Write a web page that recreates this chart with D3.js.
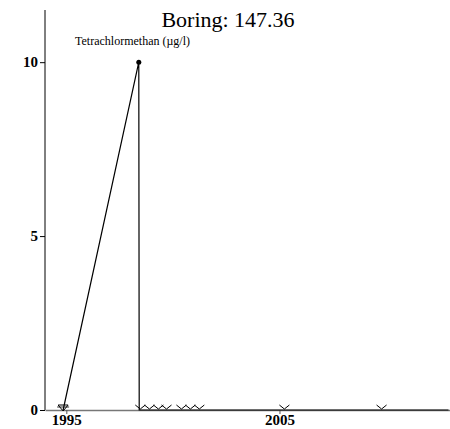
<!DOCTYPE html>
<html><head><meta charset="utf-8">
<script src="https://cdn.jsdelivr.net/npm/d3@7"></script>
<style>body{margin:0;background:#fff;}svg{display:block;}text{font-family:"Liberation Serif","Times New Roman",serif;}</style>
</head><body>
<svg id="c" width="450" height="429"></svg>
<script>
const title = "Boring: 147.36";
const seriesName = "Tetrachlormethan (\u00b5g/l)";
// measured line
const lineDates = [1994.85, 1998.4, 1998.42, 1998.47, 1998.9, 1999.32, 1999.7, 2000.4, 2000.82, 2001.24, 2005.23, 2009.79, 2012.93];
const lineValues = [0, 10, 0, 0, 0, 0, 0, 0, 0, 0, 0, 0, 0];
// below detection-limit markers (drawn at 0)
const bdlDates = [1998.47, 1998.9, 1999.32, 1999.7, 2000.4, 2000.82, 2001.24, 2005.23, 2009.79];
const xTicks = [1995, 2005];
const yTicks = [0, 5, 10];

const svg = d3.select("#c");
const x = d3.scaleLinear().domain([1994, 2013]).range([45, 450]);
const y = d3.scaleLinear().domain([0, 11.5]).range([410, 10]);

svg.append("text").attr("x", 228).attr("y", 27).attr("text-anchor", "middle")
  .attr("font-size", 22).text(title);
svg.append("text").attr("x", 75).attr("y", 45).attr("font-size", 12).text(seriesName);

// y axis
const ya = svg.append("g").attr("transform", "translate(45,0)")
  .call(d3.axisLeft(y).tickValues(yTicks).tickSize(5).tickSizeOuter(0).tickFormat(d3.format("d")));
ya.select(".domain").attr("d", `M0,${y(11.5)}V${y(0)}`).attr("stroke", "#000");
ya.selectAll("text").attr("font-size", 15).attr("font-weight", "bold").attr("font-family", "Liberation Serif, serif").attr("fill", "#000").attr("dx", "1");
ya.selectAll("line").attr("stroke", "#000");

// x axis
const xa = svg.append("g").attr("transform", `translate(0,${y(0)})`)
  .call(d3.axisBottom(x).tickValues(xTicks).tickSize(4).tickSizeOuter(0).tickFormat(d3.format("d")));
xa.select(".domain").attr("stroke", "#777").attr("stroke-width", 1.3);
xa.selectAll("line").attr("stroke", "#555");
xa.selectAll("text").attr("font-size", 15).attr("font-weight", "bold").attr("font-family", "Liberation Serif, serif").attr("fill", "#000").attr("dy", "0.5em");

// line
const pts = lineDates.map((d, i) => [d, lineValues[i]]);
svg.append("path").datum(pts)
  .attr("d", d3.line().x(d => x(d[0])).y(d => y(d[1])))
  .attr("fill", "none").attr("stroke", "#000").attr("stroke-width", 1.2);

// first point: open down triangle
svg.append("path")
  .attr("d", `M${x(lineDates[0]) - 5},${y(0) - 5}h10l-5,6z`)
  .attr("fill", "none").attr("stroke", "#000").attr("stroke-width", 1);
svg.append("line").attr("x1", x(lineDates[0]) - 6).attr("x2", x(lineDates[0]) + 6)
  .attr("y1", y(0) - 3).attr("y2", y(0) - 3).attr("stroke", "#000").attr("stroke-width", 0.8);

// max point
svg.append("circle").attr("cx", x(lineDates[1])).attr("cy", y(lineValues[1])).attr("r", 2.5).attr("fill", "#000");

// BDL chevrons
svg.selectAll("path.bdl").data(bdlDates).join("path").attr("class", "bdl")
  .attr("d", d => `M${x(d) - 5},${y(0) - 5}L${x(d)},${y(0) - 1}L${x(d) + 5},${y(0) - 5}`)
  .attr("fill", "none").attr("stroke", "#000").attr("stroke-width", 1);
</script>
</body></html>
